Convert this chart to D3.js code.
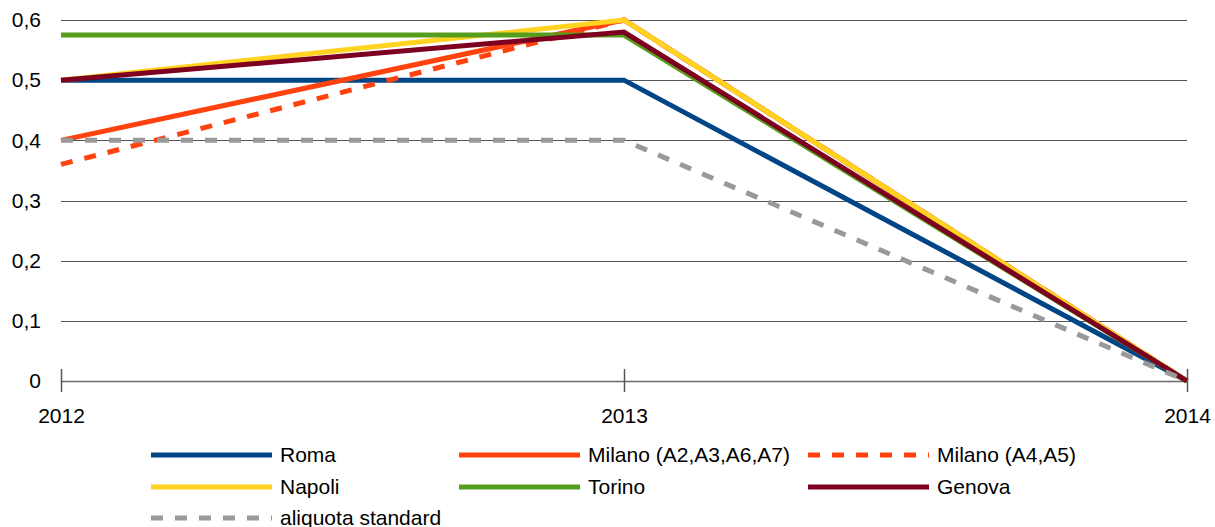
<!DOCTYPE html>
<html>
<head>
<meta charset="utf-8">
<script src="https://cdn.jsdelivr.net/npm/d3@7"></script>
<style>
  body { margin: 0; background: #fff; }
  text { font-family: "Liberation Sans", Arial, sans-serif; fill: #000; }
</style>
</head>
<body>
<svg id="chart" width="1215" height="527"></svg>
<script>
// Years on the horizontal axis
const years = ["2012", "2013", "2014"];

// Rates per city
const roma = [0.5, 0.5, 0];
const milanoA = [0.4, 0.6, 0];
const milanoB = [0.36, 0.6, 0];
const napoli = [0.5, 0.6, 0];
const torino = [0.575, 0.575, 0];
const genova = [0.5, 0.58, 0];
const aliquota = [0.4, 0.4, 0];

const yTicks = [0, 0.1, 0.2, 0.3, 0.4, 0.5, 0.6];

const series = [
  { name: "Roma", values: roma, color: "#004586", dash: null, col: 0, row: 0 },
  { name: "Milano (A2,A3,A6,A7)", values: milanoA, color: "#ff420e", dash: null, col: 1, row: 0 },
  { name: "Milano (A4,A5)", values: milanoB, color: "#ff420e", dash: "12,12", col: 2, row: 0 },
  { name: "Napoli", values: napoli, color: "#ffd320", dash: null, col: 0, row: 1 },
  { name: "Torino", values: torino, color: "#579d1c", dash: null, col: 1, row: 1 },
  { name: "Genova", values: genova, color: "#7e0021", dash: null, col: 2, row: 1 },
  { name: "aliquota standard", values: aliquota, color: "#999999", dash: "12,12", col: 0, row: 2 }
];

const FONT = "21px";
const svg = d3.select("#chart");
const x = d3.scalePoint().domain(years).range([61, 1187]);
const y = d3.scaleLinear().domain([0, 0.6]).range([381, 20]);

// Horizontal grid lines
svg.append("g")
  .selectAll("line")
  .data(yTicks.filter(d => d > 0))
  .join("line")
  .attr("x1", 61).attr("x2", 1187)
  .attr("y1", d => Math.round(y(d)) + 0.5).attr("y2", d => Math.round(y(d)) + 0.5)
  .attr("stroke", "#555").attr("stroke-width", 1);

// Y axis labels (no axis line)
const yAxis = svg.append("g")
  .attr("transform", "translate(61,0)")
  .call(d3.axisLeft(y).tickValues(yTicks).tickSize(0).tickPadding(20)
    .tickFormat(d => d3.format(".1f")(d).replace(".", ",").replace(/^0,0$/, "0")));
yAxis.select(".domain").remove();
yAxis.selectAll("text").style("font-size", FONT).style("font-family", "Liberation Sans, Arial, sans-serif");

// X axis with ticks crossing the baseline
const xAxis = svg.append("g")
  .attr("transform", "translate(0,381)")
  .call(d3.axisBottom(x).tickSizeInner(11).tickSizeOuter(0).tickPadding(16));
xAxis.select(".domain").attr("stroke", "#6a6a6a").attr("stroke-width", 1.5);
xAxis.selectAll(".tick line").attr("y1", -12).attr("stroke", "#555").attr("stroke-width", 1.5);
xAxis.selectAll("text").style("font-size", FONT).style("font-family", "Liberation Sans, Arial, sans-serif");

// Series lines
const line = d3.line().x((d, i) => x(years[i])).y(d => y(d));
svg.append("g")
  .selectAll("path")
  .data(series)
  .join("path")
  .attr("d", d => line(d.values))
  .attr("fill", "none")
  .attr("stroke", d => d.color)
  .attr("stroke-width", 5)
  .attr("stroke-dasharray", d => d.dash)
  .attr("stroke-linejoin", "miter");

// Legend
const colX = [151, 459, 808];
const rowY = [455, 487, 518];
const leg = svg.append("g")
  .selectAll("g")
  .data(series)
  .join("g")
  .attr("transform", d => `translate(${colX[d.col]},${rowY[d.row]})`);
leg.append("line")
  .attr("x1", 0).attr("x2", 121).attr("y1", 0).attr("y2", 0)
  .attr("stroke", d => d.color).attr("stroke-width", 5)
  .attr("stroke-dasharray", d => d.dash);
leg.append("text")
  .attr("x", 129).attr("y", 0).attr("dy", "0.35em")
  .style("font-size", FONT)
  .text(d => d.name);
</script>
</body>
</html>
